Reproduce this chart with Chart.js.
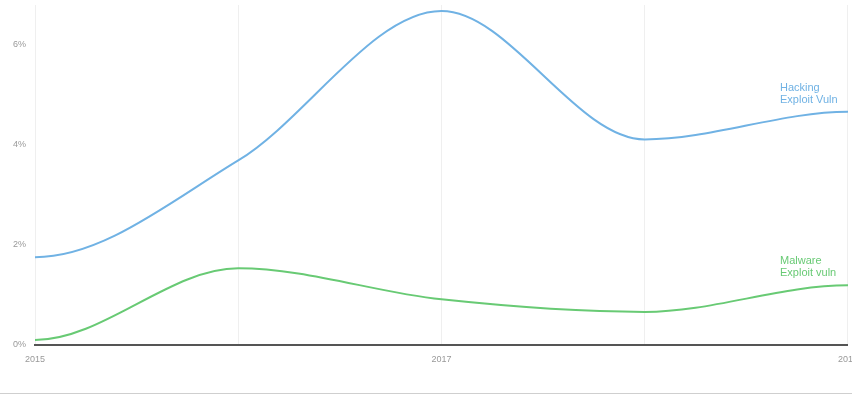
<!DOCTYPE html>
<html lang="en">
<head>
  <meta charset="UTF-8">
  <title>Exploit vuln</title>
  <style>
    html, body { margin: 0; padding: 0; background: #fff; overflow: hidden; }
    .chart-container {
      position: relative;
      width: 867px;
      height: 396px;
    }
    .bottom-rule {
      position: absolute;
      left: 0; top: 393px;
      width: 852px; height: 0;
      border-top: 1px solid #cfcfcf;
    }
  </style>
</head>
<body>
  <div class="chart-container">
    <canvas id="vulnChart"></canvas>
  </div>
  <div class="bottom-rule"></div>

  <script src="https://cdn.jsdelivr.net/npm/chart.js"></script>
  <script>
    // donnees
    const years = ['2015', '2016', '2017', '2018', '2019'];
    const hacking = [1.75, 3.68, 6.66, 4.1, 4.65];
    const malware = [0.1, 1.53, 0.91, 0.66, 1.19];
    const yTicks = [0, 2, 4, 6];
    const shownYears = ['2015', '2017', '2019'];

    const blue = 'rgb(112, 178, 228)';
    const green = 'rgb(104, 202, 116)';
    const fontFamily = '"Liberation Sans", Arial, sans-serif';

    // courbes a plat aux deux bouts, comme sur l'original
    const flatEnds = {
      id: 'flatEnds',
      beforeDatasetDraw(chart, args) {
        const line = args.meta.dataset;
        line.updateControlPoints(chart.chartArea);
        const pts = line.points;
        if (!pts.length) return;
        pts[0].cp2y = pts[0].y;
        pts[pts.length - 1].cp1y = pts[pts.length - 1].y;
      }
    };

    // petites etiquettes a droite des courbes
    const seriesLabels = {
      id: 'seriesLabels',
      afterDatasetsDraw(chart) {
        const ctx = chart.ctx;
        const x = chart.scales.x;
        const y = chart.scales.y;
        const px = x.getPixelForValue(years.length - 1) - 68;
        ctx.save();
        ctx.font = '11px ' + fontFamily;
        ctx.textBaseline = 'middle';
        ctx.fillStyle = blue;
        const hy = y.getPixelForValue(hacking[hacking.length - 1]);
        ctx.fillText('Hacking', px, hy - 24);
        ctx.fillText('Exploit Vuln', px, hy - 12);
        ctx.fillStyle = green;
        const my = y.getPixelForValue(malware[malware.length - 1]);
        ctx.fillText('Malware', px, my - 24);
        ctx.fillText('Exploit vuln', px, my - 12);
        ctx.restore();
      }
    };

    const ctx = document.getElementById('vulnChart').getContext('2d');
    new Chart(ctx, {
      type: 'line',
      data: {
        labels: years,
        datasets: [
          {
            label: 'Hacking Exploit Vuln',
            data: hacking,
            borderColor: blue,
            borderWidth: 2,
            pointRadius: 0,
            cubicInterpolationMode: 'monotone'
          },
          {
            label: 'Malware Exploit vuln',
            data: malware,
            borderColor: green,
            borderWidth: 2,
            pointRadius: 0,
            cubicInterpolationMode: 'monotone'
          }
        ]
      },
      options: {
        responsive: true,
        maintainAspectRatio: false,
        animation: false,
        layout: { padding: { top: 5, left: 0, right: 0, bottom: 0 } },
        plugins: {
          legend: { display: false },
          tooltip: { enabled: false }
        },
        scales: {
          x: {
            grid: { color: '#efefef', drawTicks: false },
            border: { color: '#555', width: 2 },
            afterFit: axis => { axis.height = 51; },
            ticks: {
              padding: 9,
              maxRotation: 0,
              autoSkip: false,
              color: '#999',
              font: { size: 9, family: fontFamily },
              callback: function (val) {
                const lab = this.getLabelForValue(val);
                return shownYears.includes(lab) ? lab : '';
              }
            }
          },
          y: {
            min: 0,
            max: 6.78,
            grid: { display: false },
            border: { display: false },
            afterFit: axis => {
              axis.width = 35;
              axis.paddingTop = 0;
              axis.paddingBottom = 0;
            },
            afterBuildTicks: axis => { axis.ticks = yTicks.map(v => ({ value: v })); },
            ticks: {
              padding: 1,
              color: '#999',
              font: { size: 9, family: fontFamily },
              callback: v => v + '%'
            }
          }
        }
      },
      plugins: [flatEnds, seriesLabels]
    });
  </script>
</body>
</html>
